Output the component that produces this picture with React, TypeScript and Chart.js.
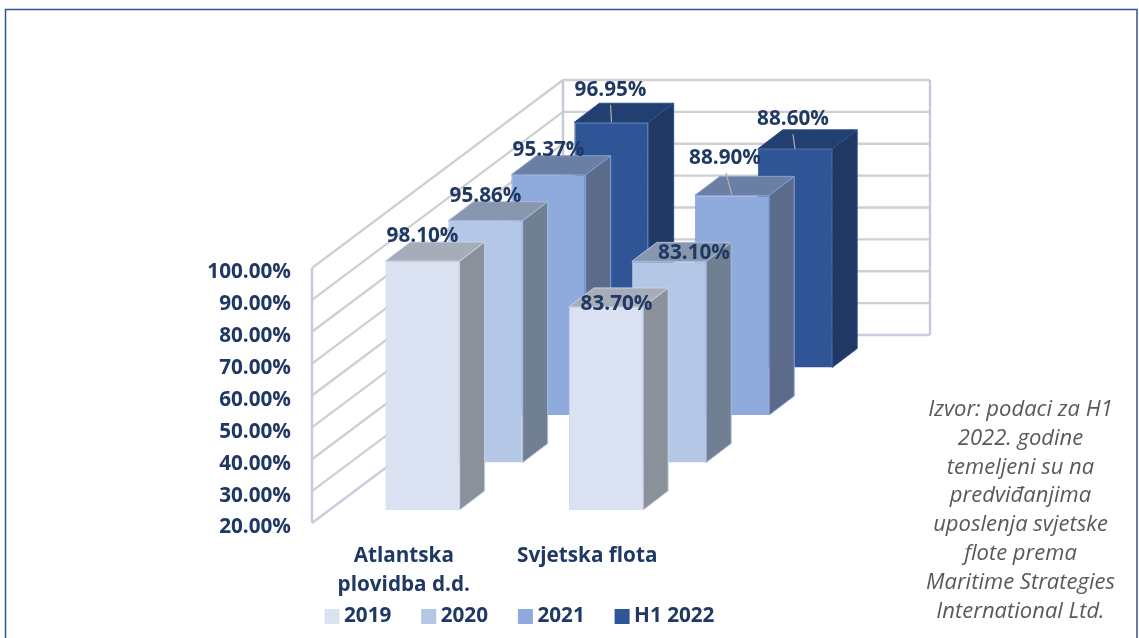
import React, { useEffect, useRef } from "react";
import { Chart, registerables } from "chart.js";

Chart.register(...registerables);

const categories = [["Atlantska", "plovidba d.d."], "Svjetska flota"];
const seriesNames = ["2019", "2020", "2021", "H1 2022"];
const values2019 = [98.1, 83.7];
const values2020 = [95.86, 83.1];
const values2021 = [95.37, 88.9];
const valuesH1 = [96.95, 88.6];
const allValues = [values2019, values2020, values2021, valuesH1];
const noteLines = [
  "Izvor: podaci za H1",
  "2022. godine",
  "temeljeni su na",
  "predviđanjima",
  "uposlenja svjetske",
  "flote prema",
  "Maritime Strategies",
  "International Ltd.",
];

const FRONT = ["#dae1f1", "#b4c7e7", "#8faadc", "#2f5597"];
const EDGE = ["#c9d3e8", "#a9bcdf", "#85a1d6", "#2a4f8f"];
const SIDE = ["#8a919b", "#717f92", "#5c6b8a", "#1f3864"];
const TOP = ["#a6adb9", "#8897ae", "#6b7ea3", "#223f72"];
const TEXT = "#1f3864";
const FAMILY = "'Open Sans', sans-serif";
const SIZE = 20.7;
const BOLD = `700 ${SIZE}px ${FAMILY}`;

// projection of the floor depth (pixels)
const START = { x: 18.75, y: -13 };
const STEP = { x: 63, y: -47.5 };
const BAR_DEPTH = { x: 25, y: -19 };
const WALL = { x: 251, y: -188, w: 367 };

// label nudges [dx, dy, leader?] relative to the bar's front-top centre
const NUDGE = [
  [[0, -24.5, 0], [10.5, -3, 0]],
  [[0, -24.5, 0], [25, -8.5, 0]],
  [[0, -24.5, 0], [-7, -37.5, 1]],
  [[-1, -32.5, 1], [-2, -29.5, 1]],
];

const bar3d = {
  id: "bar3d",
  afterDatasetsUpdate(chart: any) {
    chart.data.datasets.forEach((_: any, i: number) => {
      chart.getDatasetMeta(i).data.forEach((el: any) => {
        const dx = START.x + STEP.x * i;
        const dy = START.y + STEP.y * i;
        el.x += dx;
        el.y += dy;
        el.base += dy;
      });
    });
  },
  beforeDatasetsDraw(chart: any) {
    const { ctx, scales } = chart;
    const y = scales.y;
    const x0 = scales.x.left;
    const top = y.getPixelForValue(y.max);
    const bottom = y.getPixelForValue(y.min);
    ctx.save();
    ctx.lineWidth = 2.4;
    y.ticks.forEach((t: any) => {
      const py = y.getPixelForValue(t.value);
      const isEdge = t.value === y.min;
      ctx.strokeStyle = isEdge ? "#c6cedf" : "#d0d0d0";
      ctx.beginPath();
      ctx.moveTo(x0, py);
      ctx.lineTo(x0 + WALL.x, py + WALL.y);
      ctx.lineTo(x0 + WALL.x + WALL.w, py + WALL.y);
      ctx.stroke();
    });
    ctx.strokeStyle = "#c4cad8";
    ctx.beginPath();
    ctx.moveTo(x0, top);
    ctx.lineTo(x0, bottom);
    ctx.moveTo(x0 + WALL.x, top + WALL.y);
    ctx.lineTo(x0 + WALL.x, bottom + WALL.y);
    ctx.moveTo(x0 + WALL.x + WALL.w, top + WALL.y);
    ctx.lineTo(x0 + WALL.x + WALL.w, bottom + WALL.y);
    ctx.stroke();
    ctx.restore();
  },
  beforeDatasetDraw(chart: any, args: any) {
    const { ctx } = chart;
    const i = args.index;
    ctx.save();
    ctx.lineWidth = 1;
    chart.getDatasetMeta(i).data.forEach((el: any) => {
      const l = el.x - el.width / 2;
      const r = el.x + el.width / 2;
      const d = BAR_DEPTH;
      ctx.strokeStyle = EDGE[i];
      ctx.fillStyle = SIDE[i];
      ctx.beginPath();
      ctx.moveTo(r, el.y);
      ctx.lineTo(r + d.x, el.y + d.y);
      ctx.lineTo(r + d.x, el.base + d.y);
      ctx.lineTo(r, el.base);
      ctx.closePath();
      ctx.fill();
      ctx.stroke();
      ctx.fillStyle = TOP[i];
      ctx.beginPath();
      ctx.moveTo(l, el.y);
      ctx.lineTo(l + d.x, el.y + d.y);
      ctx.lineTo(r + d.x, el.y + d.y);
      ctx.lineTo(r, el.y);
      ctx.closePath();
      ctx.fill();
      ctx.stroke();
    });
    ctx.restore();
  },
  afterDatasetsDraw(chart: any) {
    const { ctx } = chart;
    ctx.save();
    ctx.textAlign = "center";
    ctx.textBaseline = "middle";
    ctx.font = BOLD;
    chart.data.datasets.forEach((ds: any, i: number) => {
      chart.getDatasetMeta(i).data.forEach((el: any, j: number) => {
        const [dx, dy, leader] = NUDGE[i][j];
        if (leader) {
          ctx.strokeStyle = "#b4b0a6";
          ctx.lineWidth = 1.2;
          ctx.beginPath();
          ctx.moveTo(el.x, el.y);
          ctx.lineTo(el.x + dx + (dx < -5 ? 1 : 0), el.y + dy + 15);
          ctx.stroke();
        }
        ctx.fillStyle = TEXT;
        ctx.fillText(`${ds.data[j].toFixed(2)}%`, el.x + dx, el.y + dy);
      });
    });
    ctx.restore();
  },
  afterDraw(chart: any) {
    const { ctx } = chart;
    ctx.save();
    // frame
    ctx.strokeStyle = "#2f5597";
    ctx.lineWidth = 1.5;
    ctx.strokeRect(5.5, 9.5, 1131.5, 640);
    // legend
    ctx.textAlign = "left";
    ctx.textBaseline = "middle";
    ctx.font = BOLD;
    chart.data.datasets.forEach((ds: any, i: number) => {
      const bx = 324.5 + 96.7 * i;
      ctx.fillStyle = FRONT[i];
      ctx.fillRect(bx, 609, 15, 15);
      ctx.fillStyle = TEXT;
      ctx.fillText(ds.label, bx + 19.5, 616.5);
    });
    // note
    ctx.textAlign = "center";
    ctx.fillStyle = "#595959";
    ctx.font = `italic 400 22px ${FAMILY}`;
    noteLines.forEach((line, k) => ctx.fillText(line, 1020.5, 409.5 + 28.9 * k));
    ctx.restore();
  },
};

export default function App() {
  const ref = useRef<HTMLCanvasElement>(null);
  useEffect(() => {
    const chart = new Chart(ref.current as HTMLCanvasElement, {
      type: "bar",
      data: {
        labels: categories as any,
        datasets: seriesNames.map((label, i) => ({
          label,
          data: allValues[i],
          base: 20,
          backgroundColor: FRONT[i],
          borderColor: EDGE[i],
          borderWidth: 1,
          grouped: false,
          barPercentage: 0.405,
          categoryPercentage: 1,
          clip: false as any,
        })),
      },
      options: {
        animation: false,
        responsive: false,
        devicePixelRatio: 1,
        layout: { padding: { left: 0, top: 268, right: 460, bottom: 0 } },
        plugins: { legend: { display: false }, tooltip: { enabled: false }, title: { display: false } },
        scales: {
          x: {
            grid: { display: false, drawTicks: false },
            border: { display: false },
            afterFit: (s: any) => {
              s.height = 115;
            },
            ticks: {
              autoSkip: false,
              maxRotation: 0,
              padding: 19,
              color: TEXT,
              font: { family: FAMILY, size: SIZE, weight: 700, lineHeight: 1.4 },
            },
          },
          y: {
            min: 20,
            max: 100,
            grid: { display: false, drawTicks: false },
            border: { display: false },
            afterFit: (s: any) => {
              s.width = 312;
            },
            ticks: {
              stepSize: 10,
              padding: 21,
              labelOffset: 4.5,
              color: TEXT,
              font: { family: FAMILY, size: SIZE, weight: 700 },
              callback: (v: any) => `${Number(v).toFixed(2)}%`,
            },
          },
        },
      },
      plugins: [bar3d],
    } as any);
    return () => chart.destroy();
  }, []);
  return (
    <div style={{ position: "absolute", left: 0, top: 0, width: 1139, height: 638, background: "#fff", overflow: "hidden" }}>
      <canvas ref={ref} width={1139} height={638} style={{ display: "block" }} />
    </div>
  );
}
